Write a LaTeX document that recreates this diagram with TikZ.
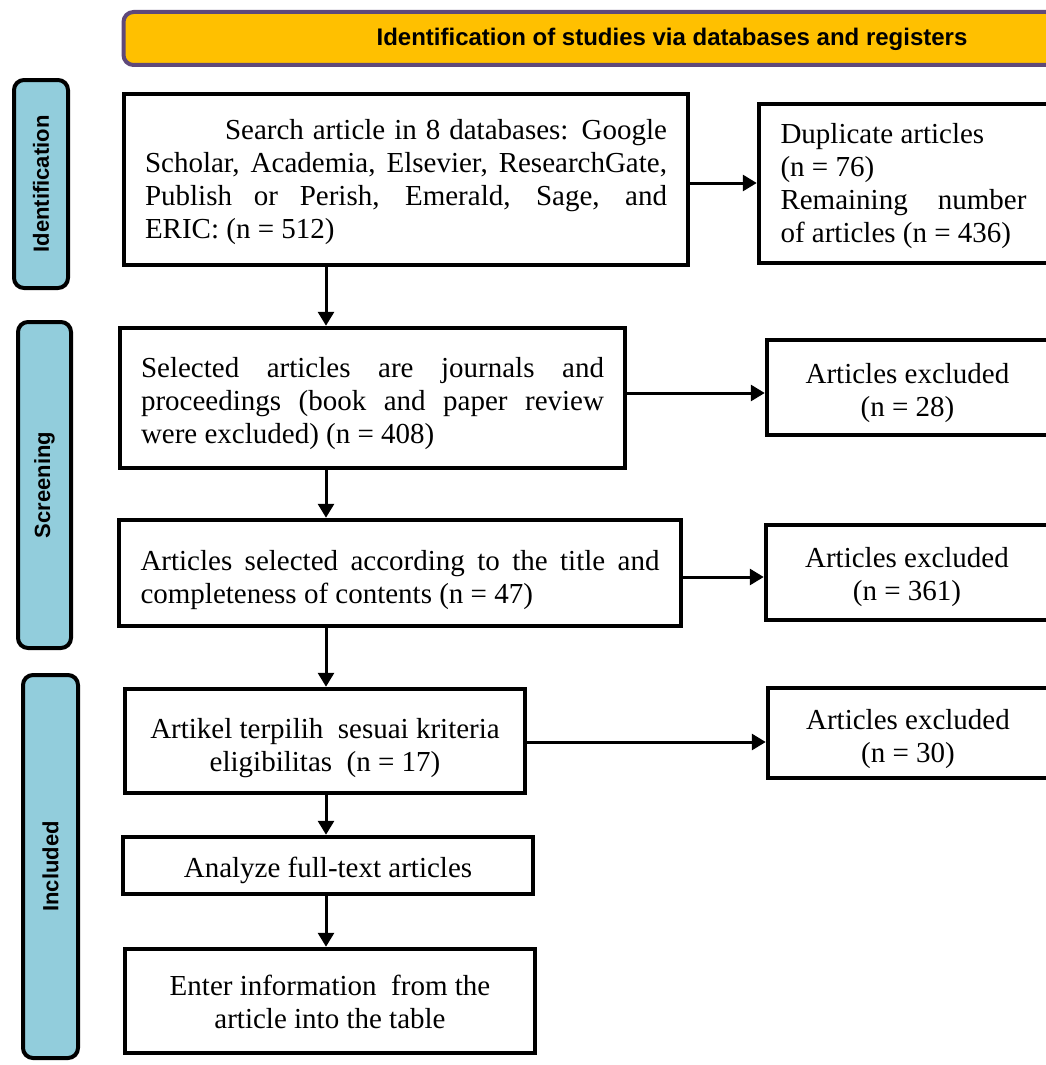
\documentclass[tikz,border=0pt]{standalone}
\usepackage{fontspec}
\setmainfont{Liberation Serif}
\newfontfamily\arialfont{Liberation Sans}
\usetikzlibrary{arrows.meta}
\definecolor{bannerfill}{HTML}{FFC000}
\definecolor{bannerline}{HTML}{5F497A}
\definecolor{sidefill}{HTML}{92CDDC}
\begin{document}
\begin{tikzpicture}[x=1pt,y=-1pt,
  every node/.style={inner sep=0pt},
  box/.style={draw=black,line width=4.5pt,fill=white,text height=32pt,font=\fontsize{29}{33}\selectfont},
  side/.style={draw=black,line width=4pt,fill=sidefill,rounded corners=10pt,rotate=90,
    font=\arialfont\bfseries\fontsize{22}{25}\selectfont},
  banner/.style={draw=bannerline,line width=4pt,fill=bannerfill,rounded corners=10pt},
  arr/.style={line width=3pt,-{Triangle[length=14pt,width=16pt]}}]
\clip (0,0) rectangle (1046,1065);
\fill[white] (0,0) rectangle (1046,1065);
% banner
\node[banner,minimum width=945,minimum height=53] (banner) at (596,38.5) {};
\node[font=\arialfont\bfseries\fontsize{24}{28}\selectfont] (bannertext) at (672,39)
  {Identification of studies via databases and registers};
% side labels
\node[side,minimum width=208,minimum height=54] (sideid) at (41,184) {Identification};
\node[side,minimum width=326,minimum height=53] (sidescr) at (44.5,485) {Screening};
\node[side,minimum width=383,minimum height=55] (sideinc) at (50.5,866.5) {Included};
% main column
\node[box,text height=26pt,minimum width=564,minimum height=171,text width=522,align=justify] (search) at (406,179.5)
  {\hspace*{80pt}Search article in 8 databases: Google\linebreak Scholar, Academia, Elsevier, ResearchGate,\linebreak Publish or Perish, Emerald, Sage, and\linebreak ERIC: (n = 512)};
\node[box,minimum width=505,minimum height=140,text width=463,align=justify] (sel) at (372.5,398)
  {Selected articles are journals and\linebreak proceedings (book and paper review\linebreak were excluded) (n = 408)};
\node[box,text height=34pt,minimum width=562,minimum height=106,text width=519,align=justify] (art) at (400,573)
  {Articles selected according to the title and\linebreak completeness of contents (n = 47)};
\node[box,text height=34pt,minimum width=400,minimum height=104,text width=380,align=flush center] (elig) at (325,741)
  {Artikel terpilih\ \ sesuai kriteria\\eligibilitas\ \ (n = 17)};
\node[box,text height=30pt,minimum width=410,minimum height=57,text width=390,align=flush center] (anal) at (328,865.5)
  {Analyze full-text articles};
\node[box,text height=22pt,minimum width=410,minimum height=104,text width=390,align=flush center] (enter) at (330,1001)
  {Enter information\ \ from the\\article into the table};
% right column
\node[box,text height=26pt,minimum width=289,minimum height=159,text width=246,align=justify] (dup) at (903.5,183.5)
  {Duplicate articles\\(n = 76)\\Remaining number\linebreak of articles (n = 436)};
\node[box,minimum width=281,minimum height=95,text width=260,align=flush center] (exc1) at (907.5,387.5)
  {Articles excluded\\(n = 28)};
\node[box,text height=30pt,minimum width=282,minimum height=95,text width=260,align=flush center] (exc2) at (907,572.5)
  {Articles excluded\\(n = 361)};
\node[box,minimum width=280,minimum height=90,text width=260,align=flush center] (exc3) at (908,733)
  {Articles excluded\\(n = 30)};
% connector guides
\coordinate (col) at (326,0);
\coordinate (row1) at (0,183);
\coordinate (row2) at (0,393);
\coordinate (row3) at (0,577);
\coordinate (row4) at (0,742);
% vertical arrows
\draw[arr] (search.south -| col) -- (sel.north -| col);
\draw[arr] (sel.south -| col) -- (art.north -| col);
\draw[arr] (art.south -| col) -- (elig.north -| col);
\draw[arr] (elig.south -| col) -- (anal.north -| col);
\draw[arr] (anal.south -| col) -- (enter.north -| col);
% horizontal arrows
\draw[arr] (search.east |- row1) -- (dup.west |- row1);
\draw[arr] (sel.east |- row2) -- (exc1.west |- row2);
\draw[arr] (art.east |- row3) -- (exc2.west |- row3);
\draw[arr] (elig.east |- row4) -- (exc3.west |- row4);
\end{tikzpicture}
\end{document}
